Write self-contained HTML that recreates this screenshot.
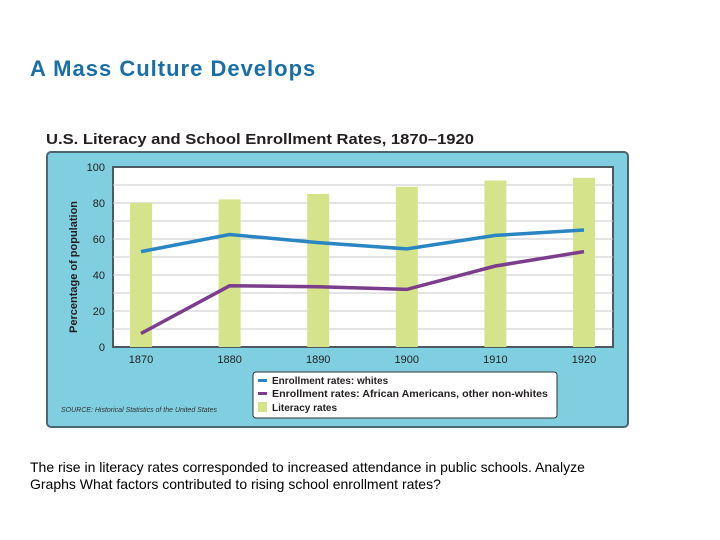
<!DOCTYPE html>
<html><head><meta charset="utf-8"><style>
body{margin:0;background:#fff;width:720px;height:540px;overflow:hidden;font-family:"Liberation Sans",sans-serif}
</style></head><body>
<div style="position:absolute;left:30px;top:56px;font-size:22px;font-weight:bold;letter-spacing:1px;color:#1a6fa6;white-space:nowrap">A Mass Culture Develops</div>
<svg width="720" height="540" style="position:absolute;left:0;top:0">
<text x="46" y="144" font-size="15" font-weight="bold" fill="#231f20" textLength="428" lengthAdjust="spacingAndGlyphs" font-family="Liberation Sans, sans-serif">U.S. Literacy and School Enrollment Rates, 1870–1920</text>
<rect x="47" y="152" width="581" height="275" rx="4" fill="#7fcfe0" stroke="#4a6670" stroke-width="2"/>
<rect x="113" y="167" width="500" height="180" fill="#fff" stroke="#4a5a60" stroke-width="2"/>
<g id="grid"></g><g id="bars"></g><g id="lines"></g><g id="axes"></g>
<text transform="translate(77,267) rotate(-90)" text-anchor="middle" font-size="11" font-weight="bold" fill="#231f20">Percentage of population</text>
<text x="61" y="412" font-size="7" fill="#333" font-style="italic">SOURCE: Historical Statistics of the United States</text>
<rect x="253" y="372" width="304" height="46" rx="3" fill="#fff" stroke="#333" stroke-width="1"/>
<rect x="258" y="379" width="9" height="3" fill="#2a86c2"/>
<text x="272" y="384" font-size="10" font-weight="bold" fill="#231f20">Enrollment rates: whites</text>
<rect x="258" y="392" width="9" height="3" fill="#7b3d8c"/>
<text x="272" y="397" font-size="10" font-weight="bold" fill="#231f20" textLength="276" lengthAdjust="spacingAndGlyphs">Enrollment rates: African Americans, other non-whites</text>
<rect x="258" y="402" width="9" height="10" fill="#d5e38a"/>
<text x="272" y="411" font-size="10" font-weight="bold" fill="#231f20">Literacy rates</text>
</svg>
<div style="position:absolute;left:30px;top:459px;font-size:14px;line-height:17px;color:#000;width:580px">The rise in literacy rates corresponded to increased attendance in public schools. Analyze Graphs What factors contributed to rising school enrollment rates?</div>
<script>
const years=["1870","1880","1890","1900","1910","1920"];
const literacy=[80,82,85,89,92.5,94];
const whites=[53,62.5,58,54.5,62,65];
const nonwhites=[7.5,34,33.5,32,45,53];
const yTicks=[0,20,40,60,80,100];
const NS="http://www.w3.org/2000/svg";
const x=i=>141+i*88.6;
const y=v=>347-v*1.8;
function mk(t,a,p){const e=document.createElementNS(NS,t);for(const k in a)e.setAttribute(k,a[k]);p.appendChild(e);return e;}
const grid=document.getElementById('grid');
for(let v=10;v<100;v+=10){const g=mk('line',{x1:113,x2:613,y1:y(v),y2:y(v),stroke:'#c8c8c8','stroke-width':1},grid);

}
const bars=document.getElementById('bars');
literacy.forEach((v,i)=>{const r=mk('rect',{x:x(i)-11,y:y(v),width:22,height:y(0)-y(v),fill:'#d5e38a'},bars);

});
const lines=document.getElementById('lines');
[[whites,'#2a86c2','line-whites'],[nonwhites,'#7b3d8c','line-nonwhites']].forEach(([d,c,n])=>{
const p=mk('polyline',{points:d.map((v,i)=>x(i)+','+y(v)).join(' '),fill:'none',stroke:c,'stroke-width':3.5},lines);

});
const axes=document.getElementById('axes');
yTicks.forEach(v=>{const t=mk('text',{x:105,y:y(v)+4,'text-anchor':'end','font-size':11,fill:'#231f20'},axes);t.textContent=v;

});
years.forEach((yr,i)=>{const t=mk('text',{x:x(i),y:363,'text-anchor':'middle','font-size':11,fill:'#231f20'},axes);t.textContent=yr;

});
</script>
</body></html>
